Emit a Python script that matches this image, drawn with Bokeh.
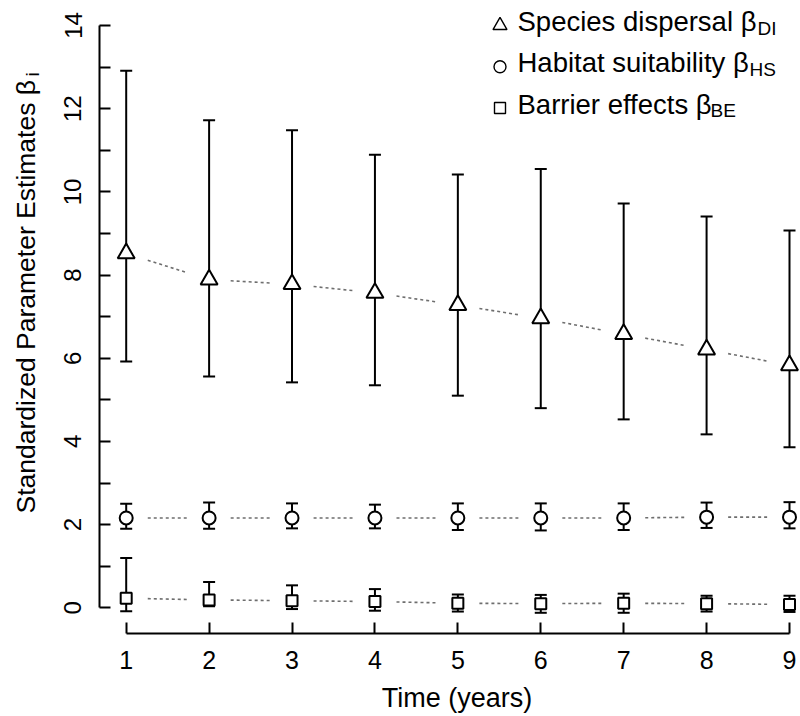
import math
from bokeh.plotting import figure
from bokeh.models import Range1d, FixedTicker, Label, LinearAxis
from bokeh.embed import file_html
from bokeh.resources import INLINE

# ---------------- data ----------------
years = [1, 2, 3, 4, 5, 6, 7, 8, 9]

di_est = [8.52, 7.89, 7.78, 7.57, 7.28, 6.96, 6.58, 6.21, 5.83]
di_lo = [5.92, 5.56, 5.42, 5.35, 5.10, 4.80, 4.53, 4.17, 3.86]
di_hi = [12.91, 11.72, 11.48, 10.89, 10.42, 10.55, 9.72, 9.41, 9.07]

hs_est = [2.16, 2.16, 2.16, 2.16, 2.16, 2.16, 2.16, 2.18, 2.18]
hs_lo = [1.90, 1.90, 1.91, 1.91, 1.87, 1.86, 1.87, 1.92, 1.91]
hs_hi = [2.50, 2.53, 2.51, 2.48, 2.51, 2.51, 2.51, 2.53, 2.54]

be_est = [0.23, 0.19, 0.17, 0.15, 0.11, 0.10, 0.11, 0.10, 0.08]
be_lo = [-0.08, 0.04, -0.03, -0.07, -0.09, -0.12, -0.12, -0.09, -0.10]
be_hi = [1.20, 0.62, 0.54, 0.45, 0.32, 0.31, 0.34, 0.29, 0.29]

y_major_ticks = [0, 2, 4, 6, 8, 10, 12, 14]
y_minor_ticks = [1, 3, 5, 7, 9, 11, 13]
x_ticks = years

legend_labels = ["Species dispersal \u03b2", "Habitat suitability \u03b2", "Barrier effects \u03b2"]
legend_subs = ["DI", "HS", "BE"]
y_title = "Standardized Parameter Estimates \u03b2"
y_title_sub = "i"
x_title = "Time (years)"

# ---------------- layout ----------------
W, H = 800, 716
# pixel geometry of the reference (frame spans whole canvas)
PX_X1, PX_X9 = 125.7, 789.0      # pixel of x=1 and x=9
PY_Y0, PY_Y14 = 607.3, 25.0      # pixel of y=0 and y=14
SX = (PX_X9 - PX_X1) / 8.0
SY = (PY_Y0 - PY_Y14) / 14.0
X0 = 1 - PX_X1 / SX
X1 = X0 + W / SX
Y1 = PY_Y0 / SY
Y0 = Y1 - H / SY
FONT = "Liberation Sans"
MID = 0.35   # distance (in em) from the alphabetic baseline to the text middle


def px_x(px):
    return X0 + px / SX


def px_y(py):
    return Y1 - py / SY


p = figure(width=W, height=H, output_backend="svg", toolbar_location=None,
           x_range=Range1d(X0, X1), y_range=Range1d(Y0, Y1),
           x_axis_location=None, y_axis_location=None,
           min_border=0)
p.outline_line_color = None
p.grid.visible = False
p.background_fill_color = "white"
p.border_fill_color = "white"

xax = LinearAxis(fixed_location=px_y(633), bounds=(1, 9),
                 ticker=FixedTicker(ticks=x_ticks))
yax = LinearAxis(fixed_location=px_x(99), bounds=(0, 14),
                 ticker=FixedTicker(ticks=y_major_ticks, minor_ticks=y_minor_ticks))
for ax in (xax, yax):
    ax.axis_line_width = 2
    ax.axis_line_color = "black"
    ax.major_tick_line_width = 2
    ax.major_tick_line_color = "black"
    ax.minor_tick_line_width = 2
    ax.minor_tick_line_color = "black"
    ax.major_tick_in = 11
    ax.major_tick_out = 0
    ax.minor_tick_in = 11
    ax.minor_tick_out = 0
    ax.major_label_text_font = FONT
    ax.major_label_text_color = "black"
xax.minor_tick_in = 0
xax.major_label_text_font_size = "25px"
xax.major_label_standoff = 17
yax.major_label_text_font_size = "24px"
yax.major_label_orientation = "vertical"
yax.major_label_standoff = 18
p.add_layout(xax, "below")
p.add_layout(yax, "left")

# ---------------- connecting dotted lines ----------------
T0, T1 = 0.26, 0.73
for est in (di_est, hs_est, be_est):
    xs0, ys0, xs1, ys1 = [], [], [], []
    for i in range(len(years) - 1):
        xa, xb = years[i], years[i + 1]
        ya, yb = est[i], est[i + 1]
        xs0.append(xa + T0 * (xb - xa))
        ys0.append(ya + T0 * (yb - ya))
        xs1.append(xa + T1 * (xb - xa))
        ys1.append(ya + T1 * (yb - ya))
    p.segment(x0=xs0, y0=ys0, x1=xs1, y1=ys1, line_color="#6e6e6e",
              line_width=1.6, line_dash="3 3")

# ---------------- error bars ----------------
for lo, hi in ((di_lo, di_hi), (hs_lo, hs_hi), (be_lo, be_hi)):
    p.segment(x0=years, y0=lo, x1=years, y1=hi, line_color="black", line_width=2)
    p.scatter(years, lo, marker="dash", size=12, line_color="black", line_width=2)
    p.scatter(years, hi, marker="dash", size=12, line_color="black", line_width=2)

# ---------------- markers ----------------
p.scatter(years, di_est, marker="triangle", size=17, fill_color="white",
          line_color="black", line_width=2)
p.scatter(years, hs_est, marker="circle", size=13, fill_color="white",
          line_color="black", line_width=2)
p.scatter(years, be_est, marker="square", size=11, fill_color="white",
          line_color="black", line_width=2)


def add_text(text, px, base_py, size, align="left", angle=0.0, base_px=None):
    """Place text by its alphabetic baseline (given in reference pixels)."""
    if angle == 0.0:
        x, y = px_x(px), px_y(base_py - MID * size)
    else:  # rotated 90 deg counter-clockwise: baseline is a vertical line at base_px
        x, y = px_x(base_px - MID * size), px_y(base_py)
    p.add_layout(Label(x=x, y=y, text=text, text_font=FONT,
                       text_font_size=f"{size}px", text_align=align, angle=angle,
                       text_baseline="middle", text_color="black"))


# ---------------- legend (manual, for subscripts) ----------------
leg_markers = ["triangle", "circle", "square"]
leg_sizes = [14, 12, 11]
leg_marker_y = [25, 66.3, 107.5]
leg_base_y = [30.7, 71.7, 113.3]
leg_sub_x = [757, 749, 710]
for m, s, my in zip(leg_markers, leg_sizes, leg_marker_y):
    p.scatter([px_x(499.5)], [px_y(my)], marker=m, size=s, fill_color="white",
              line_color="black", line_width=1.4)
for lab, sub, by, sx in zip(legend_labels, legend_subs, leg_base_y, leg_sub_x):
    add_text(lab, 517, by, 27.5)
    add_text(sub, sx, by + 3.5, 19)

# ---------------- axis titles ----------------
add_text(x_title, 456.5, 707, 27, align="center")
add_text(y_title, None, 513, 26.5, angle=math.pi / 2, base_px=35)
add_text(y_title_sub, None, 76, 19, angle=math.pi / 2, base_px=39)

open("out.html", "w").write(file_html(p, INLINE))
